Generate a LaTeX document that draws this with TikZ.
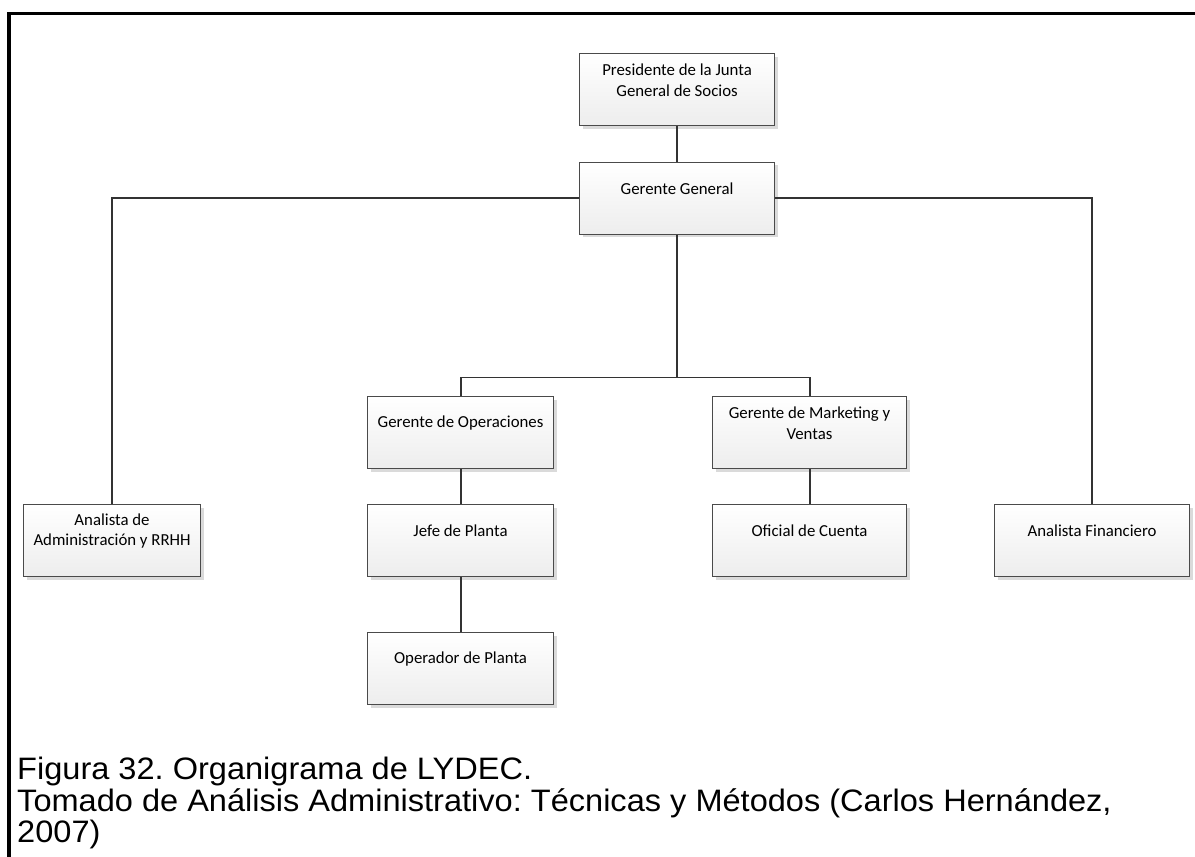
\documentclass[tikz,border=0pt]{standalone}
\usepackage{fontspec}
\setmainfont{Carlito}
\newfontfamily\capfont{Liberation Sans}
\usetikzlibrary{shadows}
\definecolor{boxline}{HTML}{4A4A4A}
\definecolor{boxbot}{HTML}{EDEDED}
\definecolor{shadowc}{HTML}{DADADA}
\definecolor{connc}{HTML}{333333}
\frenchspacing
\begin{document}
\begin{tikzpicture}[x=1pt,y=-1pt,
  org/.style={rectangle, draw=boxline, line width=1.1pt,
    top color=white, bottom color=boxbot,
    drop shadow={shadow xshift=3pt, shadow yshift=-3pt, fill=shadowc, opacity=1},
    inner sep=0pt, anchor=north west, minimum height=72pt},
  lab/.style={anchor=center, yshift=-27pt, align=center, inner sep=0pt,
    font=\fontsize{16.8}{20.5}\selectfont},
  conn/.style={draw=connc, line width=1.9pt},
  captxt/.style={anchor=base west, inner sep=0pt, xscale=1.05,
    font=\capfont\fontsize{31}{32}\selectfont}]
\useasboundingbox (0,0) rectangle (1195,857);
\fill[white] (0,0) rectangle (1195,857);
% frame rules along the top and left edges
\draw[line width=3.6pt] (9,857) -- (9,13.5) -- (1195,13.5);

% boxes
\node[org, minimum width=195pt, label={[lab]north:{Presidente de la Junta\\General de Socios}}] (pres) at (579,53) {};
\node[org, minimum width=195pt, label={[lab]north:{Gerente General}}] (gg) at (579,161.5) {};
\node[org, minimum width=177pt, label={[lab]north:{Analista de\\Administración y RRHH}}] (aadm) at (23,504) {};
\node[org, minimum width=186pt, label={[lab]north:{Gerente de Operaciones}}] (ops) at (367,396) {};
\node[org, minimum width=186pt, label={[lab]north:{Jefe de Planta}}] (jefe) at (367,504) {};
\node[org, minimum width=186pt, label={[lab]north:{Operador de Planta}}] (oper) at (367,632) {};
\node[org, minimum width=194pt, label={[lab]north:{Gerente de Marketing y\\Ventas}}] (mkt) at (712,396) {};
\node[org, minimum width=194pt, label={[lab]north:{Oficial de Cuenta}}] (ofi) at (712,504) {};
\node[org, minimum width=195pt, label={[lab]north:{Analista Financiero}}] (afin) at (994,504) {};

% connectors
\coordinate (bus) at (gg.south |- 0,377.5);
\draw[conn] (pres) -- (gg);
\draw[conn] (gg.west) -| (aadm.north);
\draw[conn] (gg.east) -| (afin.north);
\draw[conn] (gg.south) -- (bus);
\draw[conn] (bus) -| (ops.north);
\draw[conn] (bus) -| (mkt.north);
\draw[conn] (ops) -- (jefe);
\draw[conn] (jefe) -- (oper);
\draw[conn] (mkt) -- (ofi);

% caption
\node[captxt] (cap1) at (17,779) {Figura 32. Organigrama de LYDEC.};
\node[captxt] (cap2) at (17,811) {Tomado de Análisis Administrativo: Técnicas y Métodos (Carlos Hernández,};
\node[captxt] (cap3) at (17,842) {2007)};
\end{tikzpicture}
\end{document}
